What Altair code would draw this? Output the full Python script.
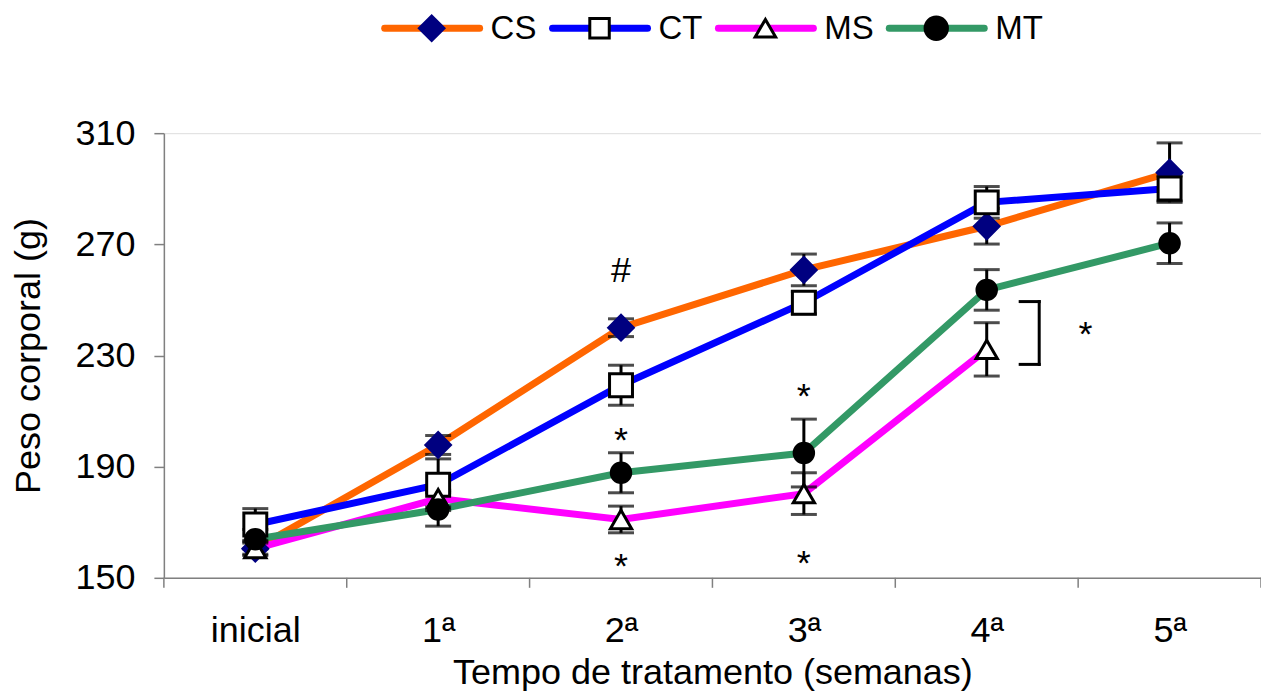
import altair as alt
import pandas as pd

# ---------------- data ----------------
categories = ["inicial", "1ª", "2ª", "3ª", "4ª", "5ª"]
series = ["CS", "CT", "MS", "MT"]

cs_mean = [160.5, 197.8, 240.0, 260.8, 276.5, 295.8]
cs_err = [2.0, 3.4, 3.2, 5.7, 6.4, 10.7]
ct_mean = [169.2, 183.5, 219.3, 249.0, 285.1, 290.1]
ct_err = [5.7, 9.3, 7.2, 4.0, 5.7, 4.5]
ms_mean = [160.5, 178.5, 171.0, 180.3, 232.2]
ms_err = [2.5, 3.0, 4.8, 7.5, 9.6]
mt_mean = [163.9, 174.6, 187.8, 194.9, 253.6, 270.4]
mt_err = [3.5, 6.0, 7.2, 12.2, 7.3, 7.3]

ann_text = ["#", "*", "*", "*", "*", "*"]
ann_x = [2, 2, 2, 3, 3, 4.54]
ann_y = [262.8, 201.7, 156.5, 217.4, 157.5, 240.0]

bracket_x = [4.287, 4.183, 4.183]
bracket_x2 = [4.287, 4.287, 4.287]
bracket_y = [226.8, 249.4, 226.8]
bracket_y2 = [249.4, 249.4, 226.8]

# ---------------- styles ----------------
line_colors = ["#FF6600", "#0000FF", "#FF00FF", "#339966"]
marker_shapes = ["diamond", "square", "triangle-up", "circle"]
marker_fill = ["#000080", "#FFFFFF", "#FFFFFF", "#000000"]
marker_stroke = ["#000080", "#000000", "#000000", "#000000"]
marker_size = [600, 380, 420, 500]
FONT = "Liberation Sans, Arial, sans-serif"
W, H = 1098, 445

means = {"CS": cs_mean, "CT": ct_mean, "MS": ms_mean, "MT": mt_mean}
errs = {"CS": cs_err, "CT": ct_err, "MS": ms_err, "MT": mt_err}
rows = []
for s in series:
    for i, (m, e) in enumerate(zip(means[s], errs[s])):
        rows.append({"series": s, "idx": i, "mean": m, "lo": m - e, "hi": m + e})
df = pd.DataFrame(rows)

label_expr = "[" + ",".join("'" + c + "'" for c in categories) + "][datum.value]"
xscale = alt.Scale(domain=[-0.5, len(categories) - 0.5], nice=False, zero=False)
yscale = alt.Scale(domain=[150, 310], nice=False, zero=False)

x_enc = alt.X("idx:Q", scale=xscale,
              axis=alt.Axis(values=list(range(len(categories))), labelExpr=label_expr,
                            ticks=False, grid=False, labelFontSize=36, labelFont=FONT,
                            labelPadding=36, title="Tempo de tratamento (semanas)",
                            titleFontSize=36, titleFont=FONT, titleFontWeight="normal",
                            titlePadding=7, domainColor="#808080", domainWidth=1.5,
                            labelColor="black", titleColor="black"))
y_enc = alt.Y("mean:Q", scale=yscale,
              axis=alt.Axis(values=[150, 190, 230, 270, 310], grid=False, tickSize=10,
                            tickColor="#808080", tickWidth=1.5, domainColor="#808080",
                            domainWidth=1.5, labelFontSize=36, labelFont=FONT,
                            labelPadding=19, title="Peso corporal (g)", titleFontSize=36,
                            titleFont=FONT, titleFontWeight="normal", titlePadding=27,
                            labelColor="black", titleColor="black"))

base = alt.Chart(df)

lines = base.mark_line(strokeWidth=7).encode(
    x=x_enc, y=y_enc,
    color=alt.Color("series:N", scale=alt.Scale(domain=series, range=line_colors), legend=None),
)

err_rules = base.mark_rule(color="black", strokeWidth=3).encode(
    x=alt.X("idx:Q", scale=xscale), y=alt.Y("lo:Q", scale=yscale), y2="hi:Q")
cap_lo = base.mark_tick(orient="horizontal", size=26, thickness=3, color="black").encode(
    x=alt.X("idx:Q", scale=xscale), y=alt.Y("lo:Q", scale=yscale))
cap_hi = base.mark_tick(orient="horizontal", size=26, thickness=3, color="black").encode(
    x=alt.X("idx:Q", scale=xscale), y=alt.Y("hi:Q", scale=yscale))

markers = base.mark_point(filled=True, strokeWidth=3, opacity=1).encode(
    x=alt.X("idx:Q", scale=xscale), y=alt.Y("mean:Q", scale=yscale),
    shape=alt.Shape("series:N", scale=alt.Scale(domain=series, range=marker_shapes), legend=None),
    fill=alt.Fill("series:N", scale=alt.Scale(domain=series, range=marker_fill), legend=None),
    stroke=alt.Stroke("series:N", scale=alt.Scale(domain=series, range=marker_stroke), legend=None),
    size=alt.Size("series:N", scale=alt.Scale(domain=series, range=marker_size), legend=None),
)

# band-boundary tick marks on the x axis
bounds = pd.DataFrame({"b": [i - 0.5 for i in range(len(categories) + 1)]})
xticks = alt.Chart(bounds).mark_rule(color="#808080", strokeWidth=1.5).encode(
    x=alt.X("b:Q", scale=xscale), y=alt.value(H), y2=alt.value(H + 10))

ann_df = pd.DataFrame({"t": ann_text, "x": ann_x, "y": ann_y})
ann = alt.Chart(ann_df).mark_text(fontSize=36, font=FONT, baseline="middle",
                                  align="center", dy=7).encode(
    x=alt.X("x:Q", scale=xscale), y=alt.Y("y:Q", scale=yscale), text="t:N")

br_df = pd.DataFrame({"x": bracket_x, "x2": bracket_x2, "y": bracket_y, "y2": bracket_y2})
bracket = alt.Chart(br_df).mark_rule(color="black", strokeWidth=3, strokeCap="square").encode(
    x=alt.X("x:Q", scale=xscale), x2="x2:Q", y=alt.Y("y:Q", scale=yscale), y2="y2:Q")

# manual legend above the plot
leg_layers = []
leg_x0 = [221, 389, 555, 726]
leg_y = -105
for k, s in enumerate(series):
    one = pd.DataFrame({"series": [s]})
    x0 = leg_x0[k]
    leg_layers.append(alt.Chart(one).mark_rule(strokeWidth=7, color=line_colors[k], strokeCap="round").encode(
        x=alt.value(x0), x2=alt.value(x0 + 95), y=alt.value(leg_y)))
    leg_layers.append(alt.Chart(one).mark_point(filled=True, strokeWidth=3, opacity=1,
                                                fill=marker_fill[k], stroke=marker_stroke[k],
                                                shape=marker_shapes[k], size=marker_size[k]).encode(
        x=alt.value(x0 + 47), y=alt.value(leg_y)))
    leg_layers.append(alt.Chart(one).mark_text(fontSize=33, font=FONT, align="left",
                                               baseline="middle", color="black", dy=1).encode(
        x=alt.value(x0 + 106), y=alt.value(leg_y), text="series:N"))

chart = alt.layer(lines, err_rules, cap_lo, cap_hi, markers, xticks, ann, bracket, *leg_layers).properties(
    width=W, height=H,
    autosize=alt.AutoSizeParams(type="none"),
    padding={"left": 156, "top": 125, "right": 0, "bottom": 114},
).configure_view(stroke=None).configure(background="white")

chart.save("out.html", embed_options={"renderer": "svg", "actions": False})
